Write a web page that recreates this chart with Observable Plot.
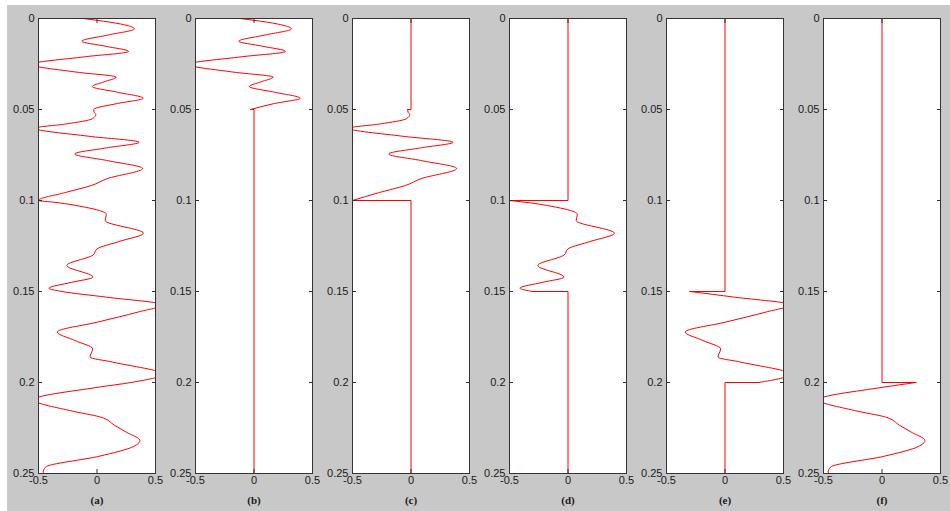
<!DOCTYPE html>
<html><head><meta charset="utf-8">
<script src="https://cdn.jsdelivr.net/npm/d3@7"></script>
<script src="https://cdn.jsdelivr.net/npm/@observablehq/plot@0.6"></script>
<style>
body{margin:0;background:#fff;}
#wrap{position:relative;width:950px;height:511px;overflow:hidden;background:#fff;}
#bg{position:absolute;left:7px;top:5px;width:943px;height:506px;background:#c8c8c8;}
.panel{position:absolute;top:0;}
</style></head>
<body><div id="wrap"><div id="bg"></div></div>
<script>
// Signal (time in s, amplitude)
const times = [0, 0.001, 0.003, 0.0057, 0.009, 0.0125, 0.0152, 0.0181, 0.021, 0.0252, 0.0295, 0.0322, 0.0348, 0.0374, 0.0405, 0.0438, 0.0467, 0.05, 0.0515, 0.0527, 0.0551, 0.0579, 0.0603, 0.0647, 0.068, 0.0711, 0.0744, 0.0782, 0.0824, 0.088, 0.0918, 0.0956, 0.1, 0.101, 0.1037, 0.1055, 0.1075, 0.111, 0.118, 0.1224, 0.1266, 0.130, 0.1357, 0.1421, 0.145, 0.1482, 0.15, 0.1531, 0.1573, 0.1613, 0.1668, 0.1723, 0.1769, 0.1815, 0.186, 0.1888, 0.1955, 0.2, 0.2026, 0.2095, 0.2154, 0.219, 0.2235, 0.2273, 0.2319, 0.2352, 0.2405, 0.2465, 0.2493, 0.25];
const values = [-0.12, 0.0, 0.2, 0.32, 0.1, -0.13, 0.07, 0.27, -0.1, -0.56, -0.17, 0.164, 0.06, -0.04, 0.175, 0.395, 0.175, -0.028, -0.025, -0.01, -0.04, -0.26, -0.53, -0.07, 0.36, 0.08, -0.19, 0.1, 0.39, 0.087, -0.05, -0.27, -0.5, -0.36, -0.1, 0.02, 0.08, 0.07, 0.397, 0.196, 0.0, -0.034, -0.258, -0.034, -0.22, -0.41, -0.3, 0.08, 0.56, 0.35, 0.006, -0.34, -0.19, -0.037, -0.06, 0.135, 0.56, 0.29, 0.01, -0.54, -0.235, 0.03, 0.15, 0.25, 0.367, 0.31, 0.02, -0.44, -0.46, -0.45];

const panelLabels = ["(a)", "(b)", "(c)", "(d)", "(e)", "(f)"];
const windowStart = [0, 0, 0.05, 0.1, 0.15, 0.2];
const windowEnd = [0.25, 0.05, 0.1, 0.15, 0.2, 0.25];
const xTicks = [-0.5, 0, 0.5];
const xTickLabels = ["-0.5", "0", "0.5"];
const yTicks = [0, 0.05, 0.1, 0.15, 0.2, 0.25];
const yTickLabels = ["0", "0.05", "0.1", "0.15", "0.2", "0.25"];

const signal = times.map((t, i) => ({t, v: values[i]}));
const sigAt = t => signal.find(d => Math.abs(d.t - t) < 1e-9).v;

const wrap = document.getElementById("wrap");
const W = 117, ML = 38, MR = 4, STEP = 157;

panelLabels.forEach((lab, i) => {
  const s = windowStart[i], e = windowEnd[i];
  const seg = signal.filter(d => d.t >= s - 1e-9 && d.t <= e + 1e-9);
  const zero = [];
  if (s > 0) { zero.push({t: 0, v: 0, p: "a"}, {t: s, v: 0, p: "a"}, {t: s, v: sigAt(s), p: "a"}); }
  if (e < 0.25) { zero.push({t: e, v: sigAt(e), p: "b"}, {t: e, v: 0, p: "b"}, {t: 0.25, v: 0, p: "b"}); }
  const chart = Plot.plot({
    width: ML + W + MR,
    height: 511,
    marginLeft: ML, marginRight: MR, marginTop: 18, marginBottom: 38,
    style: {background: "transparent", fontFamily: "'Liberation Sans', Arial, sans-serif", fontSize: "11px", overflow: "visible"},
    x: {domain: [-0.5, 0.5], axis: null},
    y: {domain: [0, 0.25], reverse: true, axis: null},
    marks: [
      Plot.frame({fill: "white", stroke: "none"}),
      Plot.line(zero, {x: "v", y: "t", z: "p", stroke: "#ff0000", strokeWidth: 1, clip: true}),
      Plot.line(seg, {x: "v", y: "t", stroke: "#ff0000", strokeWidth: 1, curve: "monotone-y", clip: true}),
      Plot.axisY(yTicks, {anchor: "left", tickSize: 4, dx: 4, tickFormat: () => "", label: null, stroke: "#333"}),
      Plot.axisY(yTicks, {anchor: "right", tickSize: 4, dx: -4, tickFormat: () => "", label: null, stroke: "#333"}),
      Plot.axisX(xTicks, {anchor: "bottom", tickSize: 4, dy: -4, tickFormat: () => "", label: null, stroke: "#333"}),
      Plot.axisX(xTicks, {anchor: "top", tickSize: 4, dy: 4, tickFormat: () => "", label: null, stroke: "#333"}),
      Plot.text(yTicks, {y: d => d, text: (d, j) => yTickLabels[j], frameAnchor: "left", textAnchor: "end", dx: -4, fill: "#1a1a1a", fontSize: 11}),
      Plot.text(xTicks, {x: d => d, text: (d, j) => xTickLabels[j], frameAnchor: "bottom", dy: 10, fill: "#1a1a1a", fontSize: 11}),
      Plot.text([lab], {text: d => d, frameAnchor: "bottom", dy: 30, fontWeight: "bold", fontFamily: "'Liberation Serif', 'Times New Roman', serif", fontSize: 11, fill: "#1a1a1a"}),
      Plot.frame({stroke: "#333", strokeWidth: 1})
    ]
  });
  chart.classList.add("panel");
  chart.style.left = (ML + i * STEP - ML) + "px";
  wrap.appendChild(chart);
});
</script>
</body></html>
